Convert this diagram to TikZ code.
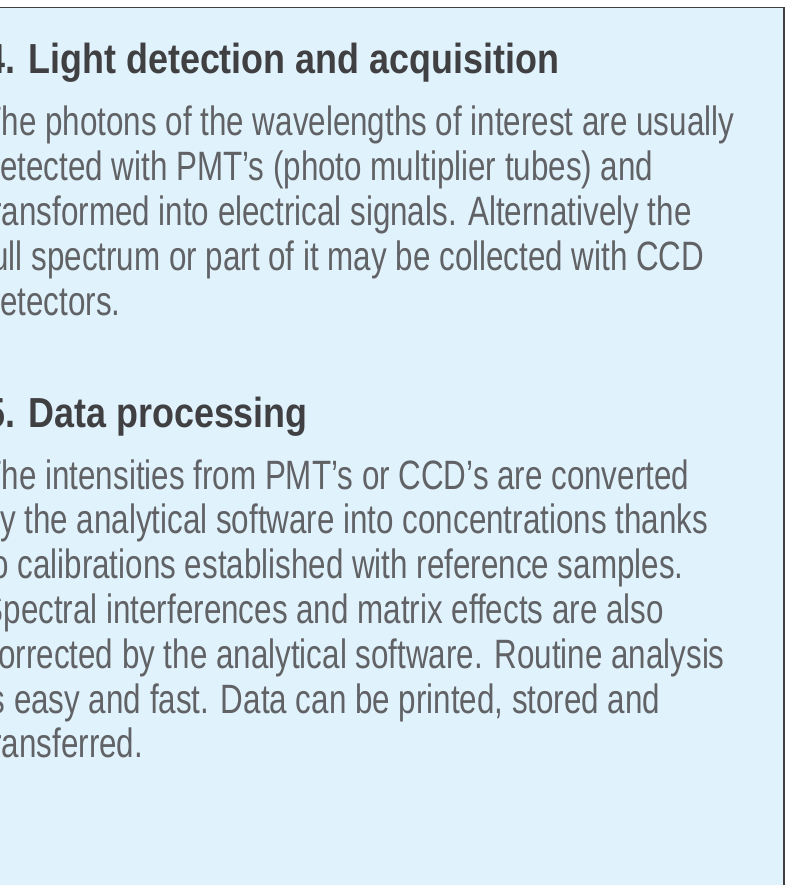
\documentclass[tikz,border=0pt]{standalone}
\usepackage{fontspec}
\setmainfont{Liberation Sans}
\newfontfamily\bodyfont[FakeStretch=0.765]{Liberation Sans}
\newfontfamily\titlefont[FakeStretch=0.855]{Liberation Sans}
\usepackage{tikz}
\usepackage{xcolor}
\usetikzlibrary{positioning}
\definecolor{panelblue}{HTML}{E0F2FC}
\definecolor{panelline}{HTML}{404042}
\definecolor{titlegray}{HTML}{404042}
\definecolor{bodygray}{HTML}{616265}

\begin{document}
\begin{tikzpicture}[
  x=1pt, y=1pt,
  panel/.style={draw=panelline, fill=panelblue, line width=1.4pt},
  heading/.style={anchor=base west, inner sep=0pt, text=titlegray,
    font=\titlefont\bfseries\fontsize{42}{46}\selectfont},
  bodyline/.style={anchor=base west, inner sep=0pt, text=bodygray,
    font=\bodyfont\fontsize{41}{45}\selectfont}
]
  \useasboundingbox (0,0) rectangle (809,-885);
  \clip (0,0) rectangle (809,-885);

  % Panel
  \draw[panel] (-20,-7.5) rectangle (784,-905);

  % Section 4
  \node[heading] (h4) at (-15,-74) {4. Light detection and acquisition};
  \foreach \txt [count=\i] in {
    {The photons of the wavelengths of interest are usually},
    {detected with PMT’s (photo multiplier tubes) and},
    {transformed into electrical signals. Alternatively the},
    {full spectrum or part of it may be collected with CCD},
    {detectors.}} {
    \node[bodyline] (pa\i) at (-17.5,-136-44.8*\i+44.8) {\txt};
  }

  % Section 5
  \node[heading] (h5) at (-15,-427) {5. Data processing};
  \foreach \txt [count=\i] in {
    {The intensities from PMT’s or CCD’s are converted},
    {by the analytical software into concentrations thanks},
    {to calibrations established with reference samples.},
    {Spectral interferences and matrix effects are also},
    {corrected by the analytical software. Routine analysis},
    {is easy and fast. Data can be printed, stored and},
    {transferred.}} {
    \node[bodyline] (pb\i) at (-17.5,-489-44.8*\i+44.8) {\txt};
  }
\end{tikzpicture}
\end{document}
